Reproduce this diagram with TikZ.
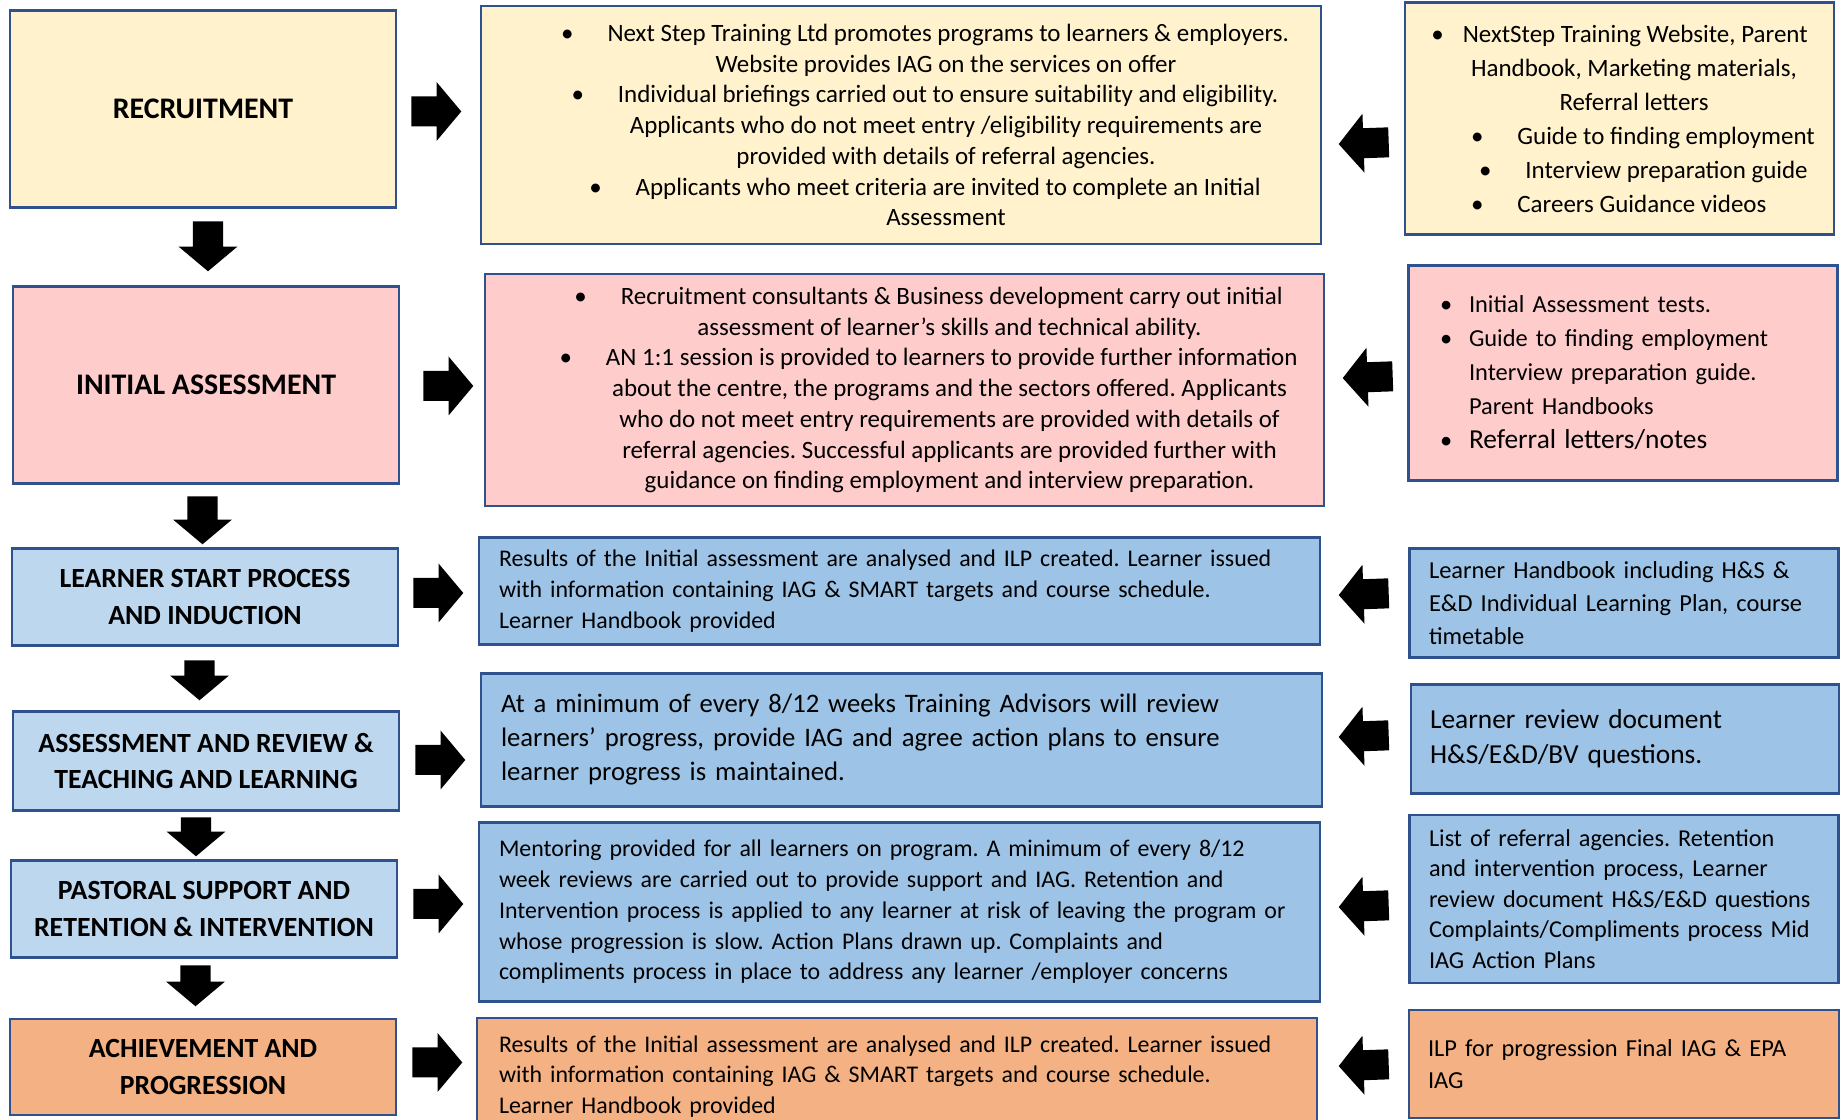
\documentclass[tikz,border=0pt]{standalone}
\usepackage{fontspec}
\setmainfont{Carlito}
\usetikzlibrary{shapes.arrows}
\frenchspacing

% bullet lines in the centred boxes
\newcommand{\bpoint}[1]{\hspace*{0.48cm}\textbullet\hspace{0.34cm}#1}
\newcommand{\bwrap}[1]{\hspace*{0.90cm}#1}
% bullet lines in the left aligned boxes
\newcommand{\lpoint}{\makebox[0.29cm][l]{\textbullet}}
\newcommand{\lskip}{\hspace*{0.29cm}}

\begin{document}
\begin{tikzpicture}[
    stage/.style={rectangle, draw=edge, line width=0.8pt, minimum width=3.86cm, inner sep=0pt,
        font=\fontsize{7.9}{10.3}\selectfont\bfseries, align=center},
    detail/.style={rectangle, draw=edge, line width=0.8pt, minimum width=8.4cm, inner sep=0pt,
        font=\fontsize{7.1}{8.75}\selectfont},
    source/.style={rectangle, draw=edge, line width=0.8pt, minimum width=4.29cm, inner sep=0pt,
        font=\fontsize{7.1}{9.67}\selectfont},
    arr/.style={single arrow, fill=black, inner xsep=0pt, inner ysep=0.143cm, minimum height=0.5cm,
        single arrow head extend=0.145cm, single arrow tip angle=100}
]
\definecolor{edge}{RGB}{47,82,143}
\definecolor{cy}{RGB}{255,242,204}
\definecolor{cp}{RGB}{255,204,204}
\definecolor{cl}{RGB}{189,215,238}
\definecolor{cb}{RGB}{157,195,230}
\definecolor{co}{RGB}{244,177,131}

\useasboundingbox (0,0) rectangle (18.41,11.20);

% stages on the left
\node[stage, fill=cy, minimum height=1.97cm, font=\fontsize{8.5}{10.4}\selectfont\bfseries] (s1) at (2.03, 10.11) {RECRUITMENT};
\node[stage, fill=cp, minimum height=1.97cm, font=\fontsize{8.5}{10.4}\selectfont\bfseries] (s2) at (2.06, 7.35) {INITIAL ASSESSMENT};
\node[stage, fill=cl, minimum height=0.975cm] (s3) at (2.05, 5.23) {LEARNER START PROCESS\\AND INDUCTION};
\node[stage, fill=cl, minimum height=0.99cm] (s4) at (2.06, 3.59) {ASSESSMENT AND REVIEW \&\\TEACHING AND LEARNING};
\node[stage, fill=cl, minimum height=0.975cm] (s5) at (2.04, 2.11) {PASTORAL SUPPORT AND\\RETENTION \& INTERVENTION};
\node[stage, fill=co, minimum height=0.96cm] (s6) at (2.03, 0.53) {ACHIEVEMENT AND\\PROGRESSION};

% what happens at each stage
\node[detail, fill=cy, minimum height=2.38cm, align=center] (d1) at (9.01, 9.95) {%
    \bpoint{Next Step Training Ltd promotes programs to learners \& employers.}\\
    \bwrap{Website provides IAG on the services on offer}\\
    \bpoint{Individual briefings carried out to ensure suitability and eligibility.}\\
    \bwrap{Applicants who do not meet entry /eligibility requirements are}\\
    \bwrap{provided with details of referral agencies.}\\
    \bpoint{Applicants who meet criteria are invited to complete an Initial}\\
    \bwrap{Assessment}};
\node[detail, fill=cp, minimum width=8.39cm, minimum height=2.32cm, align=center] (d2) at (9.045, 7.30) {%
    \bpoint{Recruitment consultants \& Business development carry out initial}\\
    \bwrap{assessment of learner’s skills and technical ability.}\\
    \bpoint{AN 1:1 session is provided to learners to provide further information}\\
    \bwrap{about the centre, the programs and the sectors offered. Applicants}\\
    \bwrap{who do not meet entry requirements are provided with details of}\\
    \bwrap{referral agencies. Successful applicants are provided further with}\\
    \bwrap{guidance on finding employment and interview preparation.}};
\node[detail, fill=cb, minimum width=8.41cm, minimum height=1.07cm, text width=8.01cm, align=left,
    font=\fontsize{6.8}{8.75}\selectfont] (d3) at (8.995, 5.29) {%
    Results of the Initial assessment are analysed and ILP created. Learner issued\\
    with information containing IAG \& SMART targets and course schedule.\\
    Learner Handbook provided};
\node[detail, fill=cb, minimum width=8.41cm, minimum height=1.33cm, text width=8.01cm, align=left,
    font=\fontsize{7.6}{9.67}\selectfont] (d4) at (9.015, 3.80) {%
    At a minimum of every 8/12 weeks Training Advisors will review\\
    learners’ progress, provide IAG and agree action plans to ensure\\
    learner progress is maintained.};
\node[detail, fill=cb, minimum width=8.41cm, minimum height=1.785cm, text width=8.01cm, align=left,
    font=\fontsize{6.8}{8.75}\selectfont] (d5) at (8.995, 2.08) {%
    Mentoring provided for all learners on program. A minimum of every 8/12\\
    week reviews are carried out to provide support and IAG. Retention and\\
    Intervention process is applied to any learner at risk of leaving the program or\\
    whose progression is slow. Action Plans drawn up. Complaints and\\
    compliments process in place to address any learner /employer concerns};
\node[detail, fill=co, minimum height=1.17cm, text width=7.96cm, align=left,
    font=\fontsize{6.8}{8.75}\selectfont] (d6) at (8.97, 0.435) {%
    Results of the Initial assessment are analysed and ILP created. Learner issued\\
    with information containing IAG \& SMART targets and course schedule.\\
    Learner Handbook provided};

% resources used
\node[source, fill=cy, minimum height=2.325cm, align=center] (r1) at (16.195, 10.015) {%
    \textbullet\hspace{0.19cm}NextStep Training Website, Parent\\
    \hspace*{0.29cm}Handbook, Marketing materials,\\
    \hspace*{0.29cm}Referral letters\\
    \makebox[2.97cm][l]{\textbullet\hspace{0.34cm}Guide to finding employment}\\
    \makebox[2.97cm][l]{\hspace*{0.08cm}\textbullet\hspace{0.34cm}Interview preparation guide}\\
    \makebox[2.97cm][l]{\textbullet\hspace{0.34cm}Careers Guidance videos}};
\node[source, fill=cp, minimum width=4.285cm, minimum height=2.15cm, text width=3.66cm, align=left,
    font=\fontsize{6.95}{9.67}\selectfont] (r2) at (16.23, 7.473) {%
    \lpoint Initial Assessment tests.\\
    \lpoint Guide to finding employment\\
    \lskip Interview preparation guide.\\
    \lskip Parent Handbooks\\
    \lpoint{\fontsize{7.8}{9.67}\selectfont Referral letters/notes}};
\node[source, fill=cb, minimum height=1.09cm, text width=3.90cm, align=left,
    font=\fontsize{6.95}{9.3}\selectfont] (r3) at (16.24, 5.17) {%
    Learner Handbook including H\&S \&\\
    E\&D Individual Learning Plan, course\\
    timetable};
\node[source, fill=cb, minimum width=4.28cm, minimum height=1.09cm, text width=3.90cm, align=left,
    font=\fontsize{7.8}{10}\selectfont] (r4) at (16.25, 3.81) {%
    Learner review document\\
    H\&S/E\&D/BV questions.};
\node[source, fill=cb, minimum height=1.68cm, text width=3.90cm, align=left,
    font=\fontsize{6.9}{8.66}\selectfont] (r5) at (16.24, 2.21) {%
    List of referral agencies. Retention\\
    and intervention process, Learner\\
    review document H\&S/E\&D questions\\
    Complaints/Compliments process Mid\\
    IAG Action Plans};
\node[source, fill=co, minimum width=4.30cm, minimum height=1.08cm, text width=3.92cm, align=left,
    font=\fontsize{6.95}{9.3}\selectfont] (r6) at (16.24, 0.56) {%
    ILP for progression Final IAG \& EPA\\
    IAG};

% block arrows down the stages
\node[arr, rotate=270] (v1) at (2.08, 8.80) {};
\node[arr, rotate=270, minimum height=0.48cm] (v2) at (2.025, 6.06) {};
\node[arr, rotate=270, minimum height=0.40cm] (v3) at (1.995, 4.46) {};
\node[arr, rotate=270, minimum height=0.39cm] (v4) at (1.96, 2.895) {};
\node[arr, rotate=270, minimum height=0.41cm] (v5) at (1.955, 1.405) {};

% stage to detail
\node[arr] (p1) at (4.30, 10.085) {};
\node[arr] (p2) at (4.42, 7.34) {};
\node[arr] (p3) at (4.32, 5.27) {};
\node[arr] (p4) at (4.34, 3.60) {};
\node[arr] (p5) at (4.32, 2.16) {};
\node[arr] (p6) at (4.31, 0.575) {};

% resource to detail, drawn a little tilted
\node[arr, rotate=182] (q1) at (13.70, 9.77) {};
\node[arr, rotate=182] (q2) at (13.74, 7.43) {};
\node[arr, rotate=182] (q3) at (13.70, 5.26) {};
\node[arr, rotate=182] (q4) at (13.70, 3.84) {};
\node[arr, rotate=182] (q5) at (13.70, 2.14) {};
\node[arr, rotate=182] (q6) at (13.70, 0.55) {};
\end{tikzpicture}
\end{document}
